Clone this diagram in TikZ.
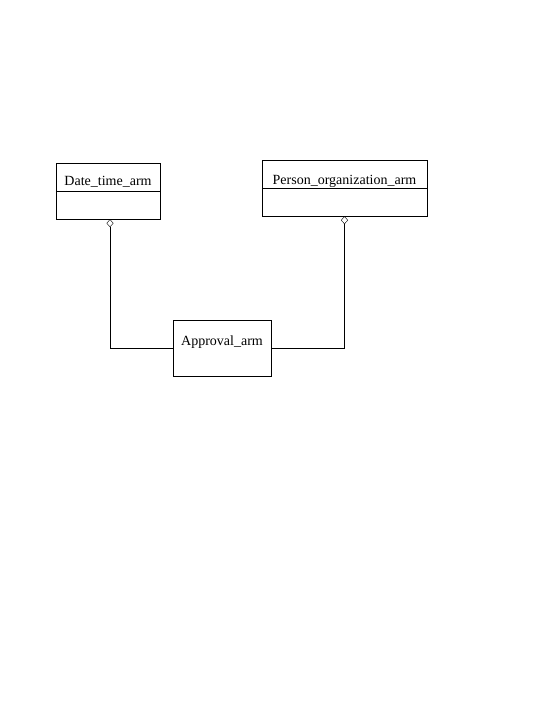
\documentclass[tikz,border=0pt]{standalone}
\usepackage{fontspec}
\setmainfont{Liberation Serif}
\usetikzlibrary{arrows.meta}
\tikzset{
  >=latex,
  line width=0.8pt,
}
\tikzstyle{entity}=[draw,minimum height=56pt,inner sep=0pt]
\tikzstyle{aggregation}=[-{Diamond[open,length=8pt,width=7pt]}]
\tikzstyle{every node}=[font=\fontsize{14}{16}\selectfont]

\begin{document}
\begin{tikzpicture}[x=1pt,y=1pt]
    \useasboundingbox (0,0) rectangle (540,720);
    \node[entity,minimum width=104pt] (datetime) at (108,529) {};
    \draw (datetime.west)--(datetime.east);
    \node[anchor=base] (datetimename) at ([yshift=5pt]datetime.center) {Date\_time\_arm};

    \node[entity,minimum width=165pt] (person) at (344.5,532) {};
    \draw (person.west)--(person.east);
    \node[anchor=base] (personname) at ([yshift=3pt]person.center) {Person\_organization\_arm};

    \node[entity,minimum width=98pt] (approval) at (222,372) {};
    \node[anchor=base] (approvalname) at ([yshift=2pt]approval.center) {Approval\_arm};

    \draw[aggregation] (approval.west) -| ([xshift=2pt]datetime.south);
    \draw[aggregation] (approval.east) -| (person.south);
  \end{tikzpicture}
\end{document}
